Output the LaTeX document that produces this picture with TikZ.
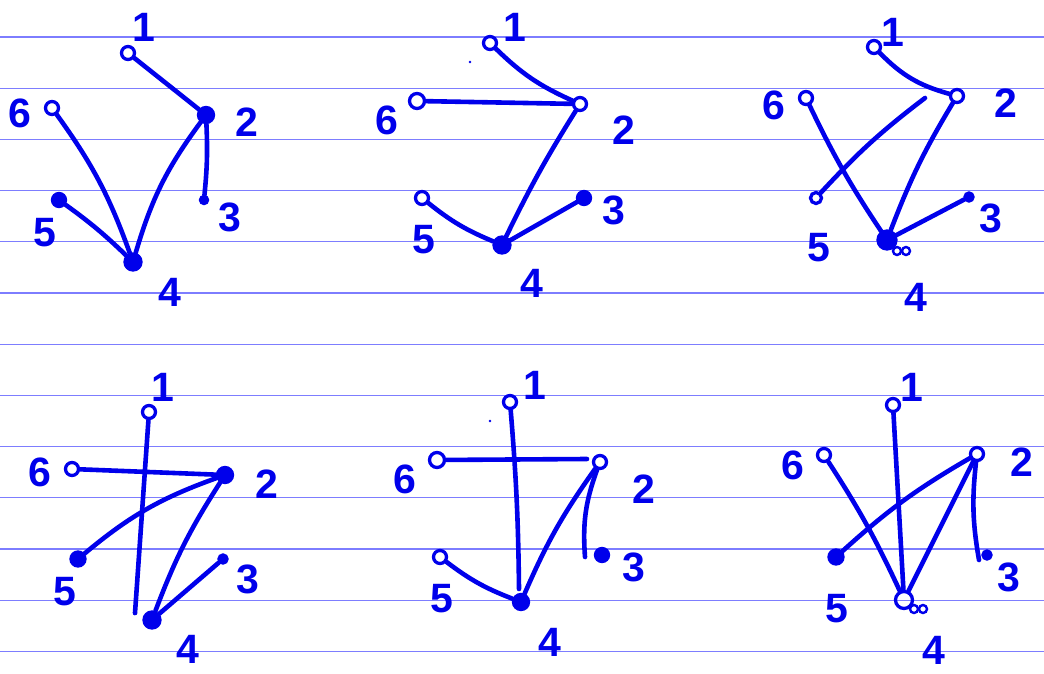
\documentclass[tikz,border=0pt]{standalone}
\usepackage{fontspec}
\setmainfont{Liberation Sans}
\definecolor{ink}{RGB}{0,0,235}
\definecolor{rulecol}{RGB}{125,125,255}
\begin{document}
\begin{tikzpicture}[x=1pt,y=-1pt,
  rule/.style={line width=1.2pt, draw=rulecol},
  edge/.style={line width=4.6pt, draw=ink, line cap=round},
  vtx/.style={circle, draw=ink, line width=3.3pt, minimum size=13pt, inner sep=0pt},
  vtxf/.style={vtx, fill=ink},
  lab/.style={text=ink, font=\fontsize{41}{41}\selectfont\bfseries, inner sep=0pt},
  loopc/.style={draw=ink, line width=2.4pt}]
\useasboundingbox (0,0) rectangle (1044,674);
\fill[white] (0,0) rectangle (1044,674);
\foreach \k in {0,...,12} \draw[rule] (0,{37+51.2*\k}) -- (1044,{37+51.2*\k});

% ---------- panel 1 ----------
\node[vtx] (a1) at (128,53) {};
\node[vtxf, minimum size=15pt] (a2) at (206,115) {};
\node[vtxf, minimum size=7pt] (a3) at (204,200) {};
\node[vtxf, minimum size=16pt] (a4) at (133,262) {};
\node[vtxf] (a5) at (59,200) {};
\node[vtx] (a6) at (52,108) {};
\node[lab] (la1) at (144,27) {1};
\node[lab] (la2) at (247,122) {2};
\node[lab] (la3) at (230,217) {3};
\node[lab] (la4) at (170,292) {4};
\node[lab] (la5) at (45,233) {5};
\node[lab] (la6) at (20,113) {6};
\draw[edge] (a1) -- (a2);
\draw[edge] (a2) to[bend left=4] (a3);
\draw[edge] (a2) to[bend right=10] (a4);
\draw[edge] (a6) to[bend left=8] (a4);
\draw[edge] (a5) to[bend left=4] (a4);

% ---------- panel 2 ----------
\node[vtx] (b1) at (490,43) {};
\node[vtx] (b2) at (580,104) {};
\node[vtxf] (b3) at (584,198) {};
\node[vtxf, minimum size=16pt] (b4) at (502,245) {};
\node[vtx] (b5) at (422,198) {};
\node[vtx, minimum size=15pt] (b6) at (417,101) {};
\node[lab] (lb1) at (515,27) {1};
\node[lab] (lb2) at (624,130) {2};
\node[lab] (lb3) at (614,210) {3};
\node[lab] (lb4) at (532,283) {4};
\node[lab] (lb5) at (424,240) {5};
\node[lab] (lb6) at (387,120) {6};
\fill[ink] (470,62) circle (1.3);
\draw[edge] (b1) to[bend right=10] (b2);
\draw[edge] (b6) -- (b2);
\draw[edge] (b2) to[bend right=3] (b4);
\draw[edge] (b5) to[bend right=8] (b4);
\draw[edge] (b4) -- (b3);

% ---------- panel 3 ----------
\node[vtx] (c1) at (874,47) {};
\node[vtx] (c2) at (957,96) {};
\node[vtxf, minimum size=8pt] (c3) at (969,197) {};
\node[vtxf, minimum size=18pt] (c4) at (887,240) {};
\node[vtx, minimum size=11pt] (c5) at (816,198) {};
\node[vtx] (c6) at (806,98) {};
\coordinate (c2e) at (925,98);
\draw[loopc] (897,251) circle (4);
\draw[loopc] (906,251) circle (4);
\node[lab] (lc1) at (893,32) {1};
\node[lab] (lc2) at (1006,103) {2};
\node[lab] (lc3) at (991,218) {3};
\node[lab] (lc4) at (916,297) {4};
\node[lab] (lc5) at (819,248) {5};
\node[lab] (lc6) at (774,105) {6};
\draw[edge] (c1) to[bend right=15] (c2);
\draw[edge] (c5) to[bend left=5] (c2e);
\draw[edge] (c6) to[bend right=4] (c4);
\draw[edge] (c2) to[bend right=5] (c4);
\draw[edge] (c4) -- (c3);

% ---------- panel 4 ----------
\node[vtx] (d1) at (149,412) {};
\node[vtxf, minimum size=15pt] (d2) at (225,475) {};
\node[vtxf, minimum size=8pt] (d3) at (223,559) {};
\node[vtxf, minimum size=16pt] (d4) at (152,620) {};
\node[vtxf, minimum size=14pt] (d5) at (78,559) {};
\node[vtx] (d6) at (72,469) {};
\coordinate (d1e) at (135,613);
\fill[ink] (d1e) circle (2.2);
\node[lab] (ld1) at (163,387) {1};
\node[lab] (ld2) at (267,484) {2};
\node[lab] (ld3) at (248,579) {3};
\node[lab] (ld4) at (188,649) {4};
\node[lab] (ld5) at (65,592) {5};
\node[lab] (ld6) at (40,472) {6};
\draw[edge] (d1) -- (d1e);
\draw[edge] (d6) -- (d2);
\draw[edge] (d2) to[bend right=10] (d5);
\draw[edge] (d2) to[bend right=6] (d4);
\draw[edge] (d4) -- (d3);

% ---------- panel 5 ----------
\node[vtx] (e1) at (510,402) {};
\node[vtx] (e2) at (600,462) {};
\node[vtxf] (e3) at (602,555) {};
\node[vtxf, minimum size=15pt] (e4) at (521,602) {};
\node[vtx] (e5) at (440,557) {};
\node[vtx, minimum size=15pt] (e6) at (437,460) {};
\coordinate (e1e) at (519,589);
\coordinate (e6e) at (587,459);
\coordinate (e3e) at (585,557);
\fill[ink] (490,421) circle (1.3);
\node[lab] (le1) at (535,385) {1};
\node[lab] (le2) at (644,489) {2};
\node[lab] (le3) at (634,567) {3};
\node[lab] (le4) at (550,642) {4};
\node[lab] (le5) at (442,599) {5};
\node[lab] (le6) at (405,479) {6};
\draw[edge] (e1) to[bend left=2] (e1e);
\draw[edge] (e6) -- (e6e);
\draw[edge] (e2) to[bend right=6] (e4);
\draw[edge] (e2) to[bend right=12] (e3e);
\draw[edge] (e5) to[bend right=8] (e4);

% ---------- panel 6 ----------
\node[vtx] (f1) at (893,405) {};
\node[vtx] (f2) at (977,454) {};
\node[vtxf, minimum size=8pt] (f3) at (987,555) {};
\node[vtx, minimum size=17pt] (f4) at (904,600) {};
\node[vtxf, minimum size=14pt] (f5) at (836,557) {};
\node[vtx] (f6) at (824,455) {};
\coordinate (f3e) at (979,560);
\draw[loopc] (914,609) circle (4);
\draw[loopc] (923,609) circle (4);
\node[lab] (lf1) at (912,387) {1};
\node[lab] (lf2) at (1022,462) {2};
\node[lab] (lf3) at (1009,577) {3};
\node[lab] (lf4) at (934,650) {4};
\node[lab] (lf5) at (837,609) {5};
\node[lab] (lf6) at (793,465) {6};
\draw[edge] (f1) -- (f4);
\draw[edge] (f6) to[bend left=4] (f4);
\draw[edge] (f2) to[bend right=6] (f5);
\draw[edge] (f2) -- (f4);
\draw[edge] (f2) to[bend right=8] (f3e);
\end{tikzpicture}
\end{document}
